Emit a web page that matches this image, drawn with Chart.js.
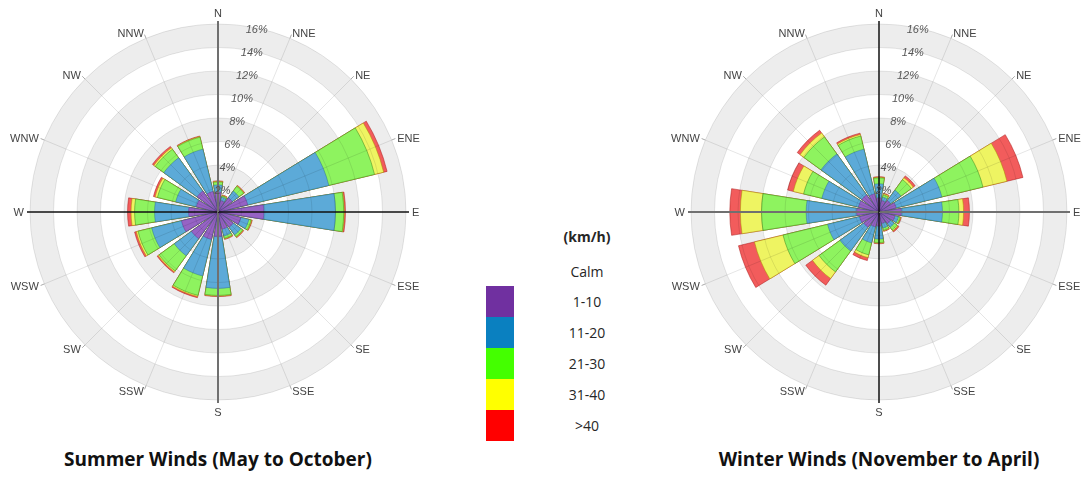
<!DOCTYPE html>
<html>
<head>
<meta charset="utf-8">
<script src="https://cdn.jsdelivr.net/npm/chart.js@4.4.1/dist/chart.umd.min.js"></script>
<style>
  html, body { margin: 0; padding: 0; background: #fff; }
  body { width: 1090px; height: 477px; position: relative; overflow: hidden; font-family: 'Open Sans', sans-serif; }
  .rose { position: absolute; top: 0; width: 440px; height: 430px; }
  #summerBox { left: -2px; }
  #winterBox { left: 659px; }
  .title { position: absolute; top: 446px; width: 420px; text-align: center; font-weight: 700; font-size: 19px; color: #111; white-space: nowrap; }
  .legText { position: absolute; left: 537px; width: 100px; text-align: center; font-size: 14px; color: #262626; line-height: 20px; }
  .legBox { position: absolute; left: 486px; width: 28px; height: 31px; }
</style>
</head>
<body>
<div id="summerBox" class="rose"><canvas id="summerChart"></canvas></div>
<div id="winterBox" class="rose"><canvas id="winterChart"></canvas></div>
<div id="legend"></div>
<div class="title" style="left: 8px;">Summer Winds (May to October)</div>
<div class="title" style="left: 669px;">Winter Winds (November to April)</div>
<script>
const directions = ['N', 'NNE', 'NE', 'ENE', 'E', 'ESE', 'SE', 'SSE', 'S', 'SSW', 'SW', 'WSW', 'W', 'WNW', 'NW', 'NNW'];
const speedClasses = ['1-10', '11-20', '21-30', '31-40', '>40'];
const tickValues = [2, 4, 6, 8, 10, 12, 14, 16];

// % of time per direction and speed class (km/h)
//                    N     NNE   NE    ENE   E     ESE   SE    SSE   S     SSW   SW    WSW   W     WNW   NW    NNW
const summer1to10  = [1.7,  1.0,  1.5,  2.6,  3.9,  2.0,  1.6,  1.5,  2.1,  2.4,  2.8,  3.2,  2.5,  1.9,  2.2,  1.8];
const summer11to20 = [0.6,  0.3,  0.7,  7.1,  6.1,  0.7,  0.8,  0.6,  4.4,  3.2,  1.8,  2.6,  2.9,  1.8,  3.5,  3.7];
const summer21to30 = [0.25, 0.1,  0.5,  4.0,  0.7,  0.2,  0.2,  0.2,  0.6,  1.7,  1.6,  1.2,  1.7,  1.6,  0.9,  1.05];
const summer31to40 = [0.05, 0.05, 0.05, 0.8,  0.05, 0.05, 0.05, 0.05, 0.05, 0.1,  0.1,  0.15, 0.3,  0.2,  0.15, 0.05];
const summerOver40 = [0.05, 0.05, 0.05, 0.3,  0.1,  0.05, 0.05, 0.05, 0.05, 0.1,  0.1,  0.15, 0.3,  0.15, 0.15, 0.05];

const winter1to10  = [1.2,  1.0,  1.2,  1.5,  1.9,  1.4,  1.2,  1.0,  1.2,  1.3,  1.6,  1.7,  1.9,  1.8,  1.8,  1.6];
const winter11to20 = [1.2,  0.3,  1.1,  4.0,  3.5,  0.3,  0.4,  0.4,  1.1,  1.4,  2.5,  2.8,  4.3,  3.2,  4.3,  3.9];
const winter21to30 = [0.5,  0.2,  1.1,  3.6,  1.4,  0.15, 0.3,  0.2,  0.3,  1.05, 2.2,  3.9,  3.8,  1.6,  1.8,  1.15];
const winter31to40 = [0.05, 0.1,  0.2,  2.1,  0.4,  0.05, 0.1,  0.05, 0.05, 0.25, 0.7,  2.5,  1.8,  0.9,  0.4,  0.13];
const winterOver40 = [0.05, 0.05, 0.2,  1.4,  0.5,  0.05, 0.1,  0.05, 0.05, 0.25, 0.7,  1.4,  0.9,  0.5,  0.3,  0.12];

const barColors = ['#9663c4', '#5caad8', '#8ef35f', '#eef462', '#f25c5c'];
const barEdges = ['rgba(80,30,120,0.35)', 'rgba(20,80,130,0.35)', 'rgba(40,120,20,0.45)', 'rgba(170,140,0,0.5)', 'rgba(170,20,20,0.5)'];
const legendColors = ['#7030a0', '#0a80c0', '#44ff00', '#ffff00', '#ff0000'];

const BAR = 18, GAP = 4.5;

// N is split in two halves so every bar is centred on its direction line
const sectorAngles = [BAR / 2];
for (let i = 1; i < directions.length; i++) sectorAngles.push(GAP, BAR);
sectorAngles.push(GAP, BAR / 2);

function sectorData(values) {
  const d = [values[0]];
  for (let i = 1; i < values.length; i++) d.push(0, values[i]);
  d.push(0, values[0]);
  return d;
}

// stacked rose: each class drawn as a running total, smallest on top
function cumulative(series) {
  let run = series[0].map(() => 0);
  return series.map(s => (run = run.map((v, i) => v + s[i])));
}

function rosePlugin(lineCfg) {
  return {
    id: 'roseDecor',
    beforeDatasetsDraw(chart) {
      const s = chart.scales.r, ctx = chart.ctx;
      ctx.save();
      ctx.fillStyle = '#ededed';
      tickValues.forEach((v, i) => {
        if (i % 2 === 0) return;
        const ro = s.getDistanceFromCenterForValue(v);
        const ri = s.getDistanceFromCenterForValue(tickValues[i - 1]);
        ctx.beginPath();
        ctx.arc(s.xCenter, s.yCenter, ro, 0, Math.PI * 2);
        ctx.arc(s.xCenter, s.yCenter, ri, 0, Math.PI * 2, true);
        ctx.fill();
      });
      ctx.restore();
    },
    afterDraw(chart) {
      const s = chart.scales.r, ctx = chart.ctx;
      const R = s.drawingArea;
      ctx.save();
      // direction labels and small ticks
      directions.forEach((name, i) => {
        const th = i * Math.PI * 2 / directions.length;
        const sin = Math.sin(th), cos = Math.cos(th);
        const cardinal = i % 4 === 0;
        const st = cardinal ? lineCfg[(i / 4) % 2] : {color: '#aaa', width: 1};
        ctx.strokeStyle = st.color;
        ctx.lineWidth = st.width;
        ctx.beginPath();
        ctx.moveTo(s.xCenter + R * sin, s.yCenter - R * cos);
        ctx.lineTo(s.xCenter + (R + (cardinal ? 3 : 4)) * sin, s.yCenter - (R + (cardinal ? 3 : 4)) * cos);
        ctx.stroke();
        ctx.font = '11px "Liberation Sans", Arial, sans-serif';
        ctx.fillStyle = '#444';
        ctx.textBaseline = 'middle';
        ctx.textAlign = Math.abs(sin) < 0.1 ? 'center' : (sin > 0 ? 'left' : 'right');
        let dy = 1;
        if (Math.abs(sin) < 0.1) dy = cos > 0 ? -4 : 7;
        ctx.fillText(name, s.xCenter + (R + 6) * sin, s.yCenter - (R + 6) * cos + dy);
      });
      // percentage labels
      const a = 12 * Math.PI / 180;
      ctx.font = 'italic 11px "Liberation Sans", Arial, sans-serif';
      ctx.fillStyle = '#555';
      ctx.textAlign = 'center';
      ctx.textBaseline = 'middle';
      tickValues.forEach(v => {
        const r = s.getDistanceFromCenterForValue(v) - 2;
        ctx.fillText(v + '%', s.xCenter + r * Math.sin(a), s.yCenter - r * Math.cos(a));
      });
      ctx.restore();
    }
  };
}

function makeRose(canvasId, series, lineCfg) {
  const totals = cumulative(series);
  return new Chart(document.getElementById(canvasId), {
    type: 'polarArea',
    data: {
      labels: directions,
      datasets: totals.map((vals, j) => ({
        label: speedClasses[j],
        data: sectorData(vals),
        backgroundColor: barColors[j],
        borderColor: barEdges[j],
        borderWidth: ctx => (ctx.dataIndex % 2 === 0 ? 1 : 0),
        angle: ctx => sectorAngles[ctx.dataIndex]
      }))
    },
    options: {
      responsive: true,
      maintainAspectRatio: false,
      animation: false,
      layout: { padding: { left: 32, right: 32, top: 24, bottom: 30 } },
      plugins: { legend: { display: false }, tooltip: { enabled: false } },
      scales: {
        r: {
          min: 0,
          max: 16,
          startAngle: 0,
          ticks: { stepSize: 2, display: false },
          grid: { z: 1, circular: true, color: 'rgba(0,0,0,0.09)' },
          border: { display: false },
          angleLines: {
            display: true,
            color: ctx => (ctx.index % 4 === 0 ? lineCfg[(ctx.index / 4) % 2].color : 'rgba(0,0,0,0.1)'),
            lineWidth: ctx => (ctx.index % 4 === 0 ? lineCfg[(ctx.index / 4) % 2].width : 1)
          },
          pointLabels: { display: false }
        }
      }
    },
    plugins: [rosePlugin(lineCfg)]
  });
}

// [N-S line, E-W line]
makeRose('summerChart',
  [summer1to10, summer11to20, summer21to30, summer31to40, summerOver40],
  [{color: '#707070', width: 2}, {color: '#111', width: 1.5}]);
makeRose('winterChart',
  [winter1to10, winter11to20, winter21to30, winter31to40, winterOver40],
  [{color: '#111', width: 1.5}, {color: '#707070', width: 2}]);

// speed class legend in the middle
const legend = document.getElementById('legend');
function addText(txt, y, bold) {
  const el = document.createElement('div');
  el.className = 'legText';
  el.style.top = (y - 10) + 'px';
  if (bold) el.style.fontWeight = '700';
  el.textContent = txt;
  legend.appendChild(el);
}
addText('(km/h)', 237, true);
addText('Calm', 272, false);
speedClasses.forEach((name, i) => {
  const box = document.createElement('div');
  box.className = 'legBox';
  box.style.top = (286 + i * 31) + 'px';
  box.style.background = legendColors[i];
  legend.appendChild(box);
  addText(name, 302 + i * 31, false);
});
</script>
</body>
</html>
